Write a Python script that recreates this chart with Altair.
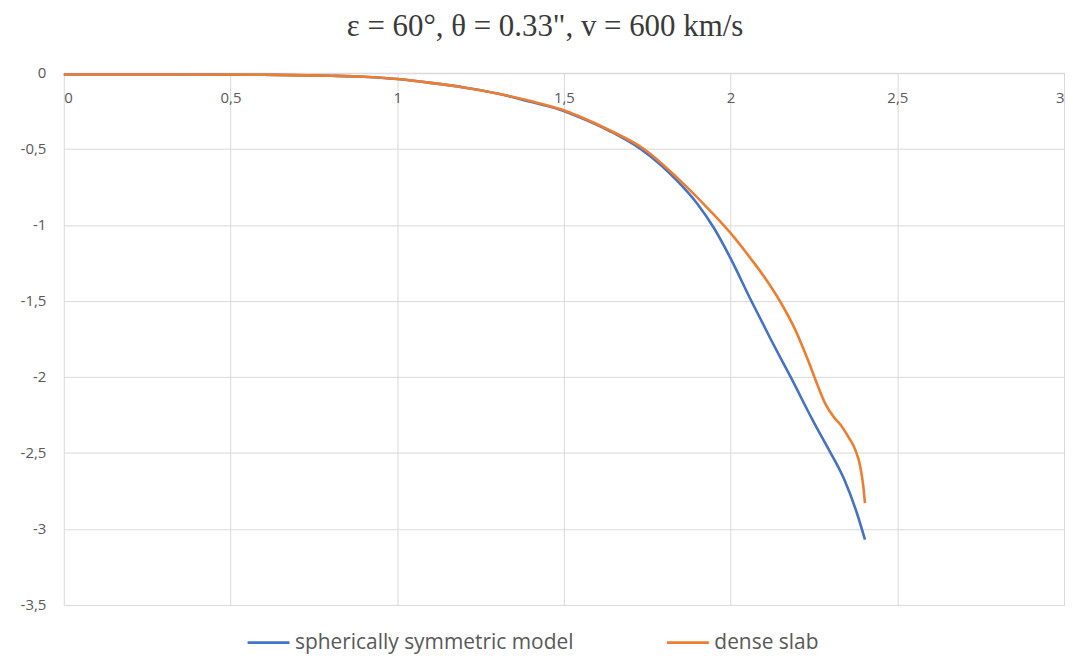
import altair as alt
import pandas as pd

series_names = ["spherically symmetric model", "dense slab"]

sph_x = [0, 0.2, 0.4, 0.6, 0.8, 0.9, 1.0, 1.1, 1.2, 1.3, 1.4, 1.5, 1.54, 1.64, 1.73, 1.84, 1.9,
         1.95, 2.0, 2.06, 2.12, 2.18, 2.25, 2.29, 2.34, 2.378, 2.403]
sph_y = [-0.01, -0.01, -0.01, -0.012, -0.018, -0.025, -0.04, -0.065, -0.095, -0.135, -0.19, -0.25,
         -0.285, -0.385, -0.5, -0.71, -0.86, -1.02, -1.22, -1.49, -1.75, -2.0, -2.3, -2.46, -2.67,
         -2.89, -3.07]

slab_x = [0, 0.2, 0.4, 0.6, 0.8, 0.9, 1.0, 1.1, 1.2, 1.3, 1.4, 1.5, 1.54, 1.64, 1.74, 1.84, 1.94,
          2.01, 2.06, 2.11, 2.149, 2.194, 2.234, 2.26, 2.285, 2.31, 2.335, 2.355, 2.374, 2.389,
          2.398, 2.403]
slab_y = [-0.01, -0.01, -0.01, -0.012, -0.018, -0.025, -0.04, -0.065, -0.095, -0.135, -0.185, -0.245,
          -0.28, -0.38, -0.5, -0.69, -0.91, -1.08, -1.22, -1.37, -1.505, -1.69, -1.9, -2.05, -2.18,
          -2.265, -2.33, -2.40, -2.48, -2.59, -2.72, -2.83]

colors = ["#4472C4", "#ED7D31"]

rows = []
for i, (x, y) in enumerate(zip(sph_x, sph_y)):
    rows.append({"x": x, "y": y, "series": series_names[0], "order": i})
for i, (x, y) in enumerate(zip(slab_x, slab_y)):
    rows.append({"x": x, "y": y, "series": series_names[1], "order": i})
df = pd.DataFrame(rows)

W, H = 1004, 534
label_expr = "replace(toString(datum.value), '.', ',')"

chart = alt.Chart(df).mark_line(strokeWidth=2.6, interpolate="monotone").encode(
    x=alt.X("x:Q", scale=alt.Scale(domain=[0, 3], nice=False),
            axis=alt.Axis(values=[0, 0.5, 1, 1.5, 2, 2.5, 3], orient="bottom", offset=-H,
                          title=None, ticks=False, domain=True, domainColor="#d9d9d9",
                          domainWidth=1.5, labelPadding=18, labelExpr=label_expr,
                          gridColor="#d9d9d9", labelFont="Open Sans", labelFontSize=15,
                          labelColor="#595959")),
    y=alt.Y("y:Q", scale=alt.Scale(domain=[-3.5, 0], nice=False),
            axis=alt.Axis(values=[0, -0.5, -1, -1.5, -2, -2.5, -3, -3.5], title=None,
                          ticks=False, domain=False, labelPadding=18, labelExpr=label_expr,
                          gridColor="#d9d9d9", labelFont="Open Sans", labelFontSize=15,
                          labelColor="#595959")),
    color=alt.Color("series:N", scale=alt.Scale(domain=series_names, range=colors),
                    legend=alt.Legend(title=None, orient="none", direction="horizontal",
                                      legendX=183, legendY=549, symbolType="stroke",
                                      symbolSize=1764, symbolStrokeWidth=2.6,
                                      labelFont="Open Sans", labelFontSize=21,
                                      labelColor="#595959", labelOffset=4, labelLimit=500,
                                      columnPadding=88)),
    order="order:Q",
).properties(
    width=W, height=H,
    title=alt.TitleParams("ε = 60°, θ = 0.33\", v = 600 km/s", font="Liberation Serif",
                          fontSize=31, fontWeight="normal", color="#3a3a3a",
                          anchor="middle", frame="group", dx=-19, offset=23),
    autosize=alt.AutoSizeParams(type="none"),
    padding={"left": 56, "top": 64, "right": 4, "bottom": 52},
).configure_view(stroke=None)

chart.save("out.html", embed_options={"renderer": "svg", "actions": False})
